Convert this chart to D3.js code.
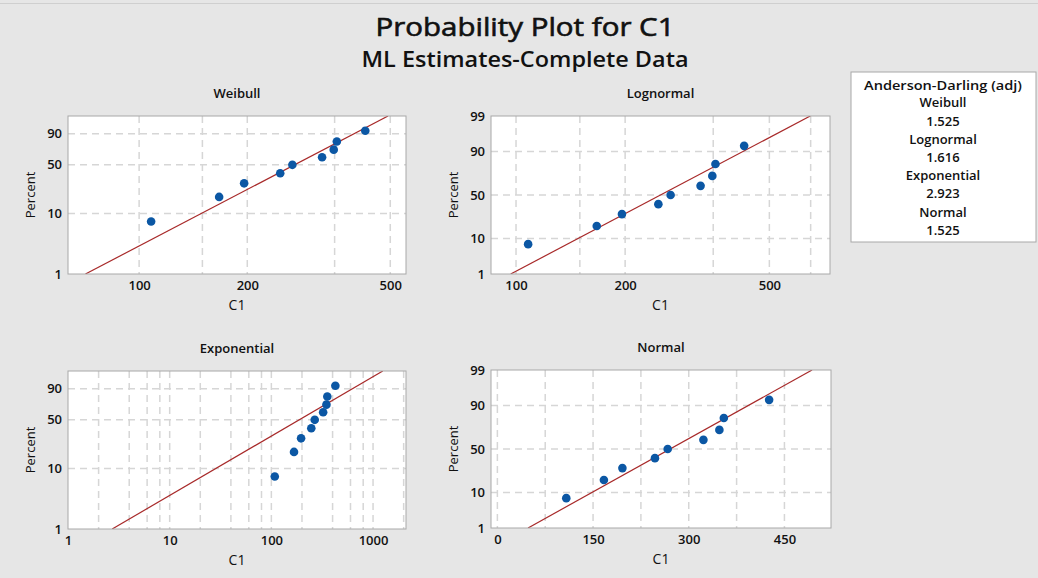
<!DOCTYPE html>
<html>
<head>
<meta charset="utf-8">
<script src="https://cdn.jsdelivr.net/npm/d3@7"></script>
<style>
  body { margin: 0; background: #e6e6e6; }
  svg text { font-family: "Segoe UI", "Open Sans", "Noto Sans", sans-serif; fill: #111; }
</style>
</head>
<body>
<svg class="probPlot"></svg>
<script>
const c1Values = [108, 167, 196, 247, 267, 323, 348, 355, 426];
const percents = [7.4, 18.1, 28.7, 39.4, 50.0, 60.6, 71.3, 81.9, 92.6];

// Anderson-Darling box
const distNames = ["Weibull", "Lognormal", "Exponential", "Normal"];
const adValues = ["1.525", "1.616", "2.923", "1.525"];

// fitted parameters
const weibullFit = [3.16, 304];       // shape, scale
const lognormalFit = [5.523, 0.409];  // location, scale
const exponentialFit = [270.7];       // mean
const normalFit = [270.7, 95.7];      // mean, sd

// ticks & grid
const xTicksWeibull = [100, 200, 500];
const xGridWeibull = [100, 150, 200, 350, 500];
const xTicksLognormal = [100, 200, 500];
const xGridLognormal = [100, 150, 200, 350, 500, 650];
const xTicksExponential = [1, 10, 100, 1000];
const xGridExponential = [2, 4, 6, 8, 10, 20, 40, 60, 80, 100, 200, 400, 600, 800, 1000, 2000];
const xTicksNormal = [0, 150, 300, 450];
const xGridNormal = [0, 75, 150, 225, 300, 375, 450];
const yTicksShort = [1, 10, 50, 90];
const yTicksLong = [1, 10, 50, 90, 99];
const yGrid = [10, 50, 90];

// inverse standard normal (Acklam)
function probit(p) {
    const a = [-39.69683028665376, 220.9460984245205, -275.9285104469687, 138.3577518672690, -30.66479806614716, 2.506628277459239];
    const b = [-54.47609879822406, 161.5858368580409, -155.6989798598866, 66.80131188771972, -13.28068155211639];
    const c = [-0.007784894002430293, -0.3223964580411365, -2.400758277161838, -2.549732539343734, 4.374664141464968, 2.938163982698783];
    const d = [0.007784695709041462, 0.3224671290700398, 2.445134137142996, 3.754408661907416];
    const pl = 0.02425;
    let q, r;
    if (p < pl) {
        q = Math.sqrt(-2 * Math.log(p));
        return (((((c[0]*q+c[1])*q+c[2])*q+c[3])*q+c[4])*q+c[5]) / ((((d[0]*q+d[1])*q+d[2])*q+d[3])*q+1);
    } else if (p <= 1 - pl) {
        q = p - 0.5; r = q * q;
        return (((((a[0]*r+a[1])*r+a[2])*r+a[3])*r+a[4])*r+a[5])*q / (((((b[0]*r+b[1])*r+b[2])*r+b[3])*r+b[4])*r+1);
    }
    q = Math.sqrt(-2 * Math.log(1 - p));
    return -(((((c[0]*q+c[1])*q+c[2])*q+c[3])*q+c[4])*q+c[5]) / ((((d[0]*q+d[1])*q+d[2])*q+d[3])*q+1);
}
const sev = p => Math.log(-Math.log(1 - p));

const panels = [
    {name: "Weibull", left: 68, top: 116, w: 338, h: 158, log: true, domain: [63.4, 553],
     ticks: xTicksWeibull, grid: xGridWeibull, yTicks: yTicksShort, tf: sev,
     fitX: p => weibullFit[1] * Math.pow(-Math.log(1 - p), 1 / weibullFit[0])},
    {name: "Lognormal", left: 491, top: 116, w: 339, h: 158, log: true, domain: [85.3, 735],
     ticks: xTicksLognormal, grid: xGridLognormal, yTicks: yTicksLong, tf: probit,
     fitX: p => Math.exp(lognormalFit[0] + lognormalFit[1] * probit(p))},
    {name: "Exponential", left: 68, top: 371, w: 338, h: 158, log: true, domain: [1, 2109],
     ticks: xTicksExponential, grid: xGridExponential, yTicks: yTicksShort, tf: sev,
     fitX: p => -exponentialFit[0] * Math.log(1 - p)},
    {name: "Normal", left: 491, top: 370, w: 340, h: 158, log: false, domain: [-10, 523],
     ticks: xTicksNormal, grid: xGridNormal, yTicks: yTicksLong, tf: probit,
     fitX: p => normalFit[0] + normalFit[1] * probit(p)}
];

const svg = d3.select(".probPlot").attr("width", 1038).attr("height", 578);

svg.append("rect").attr("width", 1038).attr("height", 578).attr("fill", "#e6e6e6");
svg.append("line").attr("x1", 0).attr("x2", 1038).attr("y1", 3.5).attr("y2", 3.5)
    .attr("stroke", "#cfcfcf").attr("stroke-width", 1);

svg.append("text").attr("x", 525).attr("y", 36).attr("text-anchor", "middle")
    .attr("textLength", 299).attr("lengthAdjust", "spacingAndGlyphs")
    .attr("stroke", "#111").attr("stroke-width", 0.6)
    .style("font-size", "25px").style("font-weight", "500").text("Probability Plot for C1");
svg.append("text").attr("x", 525).attr("y", 66.5).attr("text-anchor", "middle")
    .attr("textLength", 327).attr("lengthAdjust", "spacingAndGlyphs")
    .style("font-size", "21px").style("font-weight", "600").text("ML Estimates-Complete Data");

panels.forEach(function(pn, i) {
    const g = svg.append("g");

    const x = (pn.log ? d3.scaleLog() : d3.scaleLinear())
        .domain(pn.domain).range([pn.left, pn.left + pn.w]);
    const y = d3.scaleLinear()
        .domain([pn.tf(0.01), pn.tf(0.99)]).range([pn.top + pn.h, pn.top]);
    const yp = v => y(pn.tf(v / 100));

    g.append("rect").attr("x", pn.left).attr("y", pn.top).attr("width", pn.w).attr("height", pn.h)
        .attr("fill", "white");

    const clipId = "clip" + i;
    g.append("clipPath").attr("id", clipId).append("rect")
        .attr("x", pn.left).attr("y", pn.top).attr("width", pn.w).attr("height", pn.h);

    // grid
    g.selectAll(".vgrid").data(pn.grid.filter(v => x(v) > pn.left + 1 && x(v) < pn.left + pn.w - 1))
        .enter().append("line")
        .attr("x1", d => x(d)).attr("x2", d => x(d))
        .attr("y1", pn.top).attr("y2", pn.top + pn.h)
        .attr("stroke", "#d6d6d6").attr("stroke-width", 1.5).attr("stroke-dasharray", "7,5");
    g.selectAll(".hgrid").data(yGrid).enter().append("line")
        .attr("x1", pn.left).attr("x2", pn.left + pn.w)
        .attr("y1", d => yp(d)).attr("y2", d => yp(d))
        .attr("stroke", "#d6d6d6").attr("stroke-width", 1.5).attr("stroke-dasharray", "7,5");

    // fitted line
    const lineP = [0.01, 0.99];
    g.append("path")
        .datum(lineP)
        .attr("clip-path", `url(#${clipId})`)
        .attr("d", d3.line().x(p => x(pn.fitX(p))).y(p => y(pn.tf(p))))
        .attr("stroke", "#a82a2a").attr("stroke-width", 1.2).attr("fill", "none");

    // points
    g.selectAll(".pt").data(c1Values).enter().append("circle")
        .attr("cx", d => x(d)).attr("cy", (d, j) => yp(percents[j]))
        .attr("r", 4.3).attr("fill", "#0b57a4");

    g.append("rect").attr("x", pn.left).attr("y", pn.top).attr("width", pn.w).attr("height", pn.h)
        .attr("fill", "none").attr("stroke", "#a8a8a8");

    // axes
    const xAxis = g.append("g")
        .attr("transform", `translate(0,${pn.top + pn.h})`)
        .call(d3.axisBottom(x).tickValues(pn.ticks).tickFormat(d3.format("d")).tickSize(0).tickPadding(7));
    xAxis.select(".domain").remove();
    xAxis.selectAll(".tick text").style("font-size", "13px").style("font-weight", "600").attr("fill", "#222");

    g.selectAll(".ytick").data(pn.yTicks).enter().append("text")
        .attr("x", pn.left - 6).attr("y", d => yp(d) + 4.5)
        .attr("text-anchor", "end")
        .style("font-size", "13px").style("font-weight", "600").attr("fill", "#222")
        .text(d => d);

    g.append("text").attr("x", pn.left + pn.w / 2).attr("y", pn.top - 18)
        .attr("text-anchor", "middle").style("font-size", "13px").style("font-weight", "600")
        .text(pn.name);
    g.append("text").attr("x", pn.left + pn.w / 2).attr("y", pn.top + pn.h + 36)
        .attr("text-anchor", "middle").style("font-size", "14px").style("font-weight", "500")
        .text("C1");
    g.append("text")
        .attr("transform", `translate(${pn.left - 33},${pn.top + pn.h / 2}) rotate(-90)`)
        .attr("text-anchor", "middle").style("font-size", "13px").style("font-weight", "500")
        .text("Percent");
});

// Anderson-Darling legend
const lg = svg.append("g");
lg.append("rect").attr("x", 851).attr("y", 72).attr("width", 185).attr("height", 170)
    .attr("fill", "white").attr("stroke", "#a8a8a8");
lg.append("text").attr("x", 943).attr("y", 89.5).attr("text-anchor", "middle")
    .attr("textLength", 158).attr("lengthAdjust", "spacingAndGlyphs")
    .style("font-size", "13px").style("font-weight", "600").text("Anderson-Darling (adj)");
distNames.forEach(function(n, i) {
    lg.append("text").attr("x", 943).attr("y", 107.4 + i * 36.4).attr("text-anchor", "middle")
        .style("font-size", "13px").style("font-weight", "600").text(n);
    lg.append("text").attr("x", 943).attr("y", 125.6 + i * 36.4).attr("text-anchor", "middle")
        .style("font-size", "13px").style("font-weight", "600").text(adValues[i]);
});
</script>
</body>
</html>
